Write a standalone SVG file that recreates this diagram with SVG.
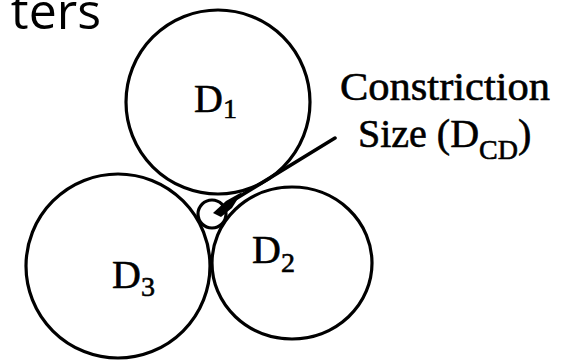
<svg xmlns="http://www.w3.org/2000/svg" width="570" height="363" viewBox="0 0 570 363">
<style>
.p{fill:none;stroke:#000;stroke-width:3.2}
.lab{font-family:"Liberation Serif","Times New Roman",serif;font-size:40px;fill:#000;stroke:#000;stroke-width:0.6}
.sub{font-size:28px}
.title{font-family:"Open Sans","Liberation Sans",sans-serif;font-size:50px;fill:#000}
</style>
<rect width="570" height="363" fill="#fff"/>
<text class="title" x="101" y="29" text-anchor="end">ters</text>
<g id="D3">
<circle class="p" cx="118" cy="266" r="92"/>
<text class="lab" x="112" y="288">D<tspan class="sub" dy="8">3</tspan></text>
</g>
<g id="D2">
<ellipse class="p" cx="292" cy="263" rx="80" ry="76"/>
<text class="lab" x="252" y="263">D<tspan class="sub" dy="9">2</tspan></text>
</g>
<g id="D1">
<circle class="p" cx="218" cy="102" r="92"/>
<text class="lab" x="194" y="112">D<tspan class="sub" dy="6">1</tspan></text>
</g>
<g id="pore">
<circle class="p" cx="212" cy="214" r="14"/>
<path d="M213,213 L226,201 L242,192 L232,208 L221,217 Z" fill="#000"/>
</g>
<g id="connectors">
<path d="M224,206 L335,138" fill="none" stroke="#000" stroke-width="3.5" stroke-linecap="round"/>
</g>
<g id="label">
<text class="lab" x="340" y="100" textLength="210" lengthAdjust="spacingAndGlyphs">Constriction</text>
<text class="lab" x="358" y="147">Size (D<tspan class="sub" dy="12">CD</tspan><tspan dy="-12">)</tspan></text>
</g>
</svg>
